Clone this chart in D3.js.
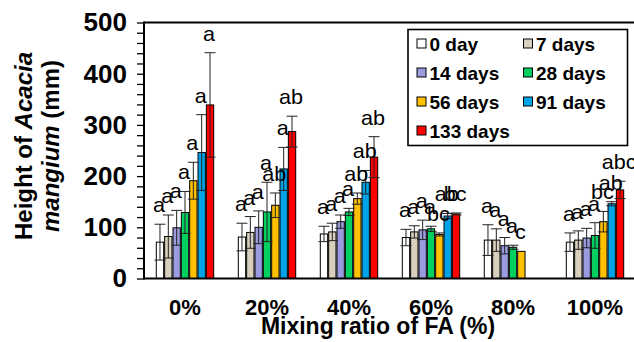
<!DOCTYPE html>
<html>
<head>
<meta charset="utf-8">
<script src="https://cdn.jsdelivr.net/npm/d3@7"></script>
<style>
  body { margin: 0; background: #fff; }
  svg { display: block; font-family: "Liberation Sans", Arial, sans-serif; }
</style>
</head>
<body>
<div id="chart"></div>
<script>
// datos
const categorias = ["0%", "20%", "40%", "60%", "80%", "100%"];
const series = ["0 day", "7 days", "14 days", "28 days", "56 days", "91 days", "133 days"];
const colores = ["#ffffff", "#d8cfbd", "#9b9be0", "#00d060", "#ffc000", "#00a2e8", "#ff0000"];

const medias = [
  [71, 81, 87, 80, 75, 71],
  [82, 90, 91, 91, 75, 75],
  [99, 100, 111, 95, 64, 79],
  [129, 130, 130, 97, 61, 84],
  [191, 143, 156, 86, 53, 111],
  [246, 214, 188, 122, null, 146],
  [339, 287, 237, 126, null, 173]
];
const errores = [
  [35, 27, 15, 16, 30, 18],
  [42, 31, 17, 12, 22, 18],
  [34, 32, 13, 19, 16, 19],
  [41, 58, 7, 5, 4, 25],
  [36, 24, 11, 3, 0, 20],
  [74, 42, 23, 5, null, 4],
  [102, 30, 40, 2, null, 17]
];
const letras = [
  ["a", "a", "a", "a", "a", "a"],
  ["a", "a", "a", "a", "a", "a"],
  ["a", "a", "a", "a", "a", "a"],
  ["a", "a", "a", "a", "a", "a"],
  ["a", "ab", "ab", "bc", "c", "bc"],
  ["a", "a", "ab", "ab", null, "ab"],
  ["a", "ab", "ab", "bc", null, "abc"]
];
const ticksY = [0, 100, 200, 300, 400, 500];

const ancho = 634, alto = 342;
const margen = { izq: 144, der: -2, arr: 22.5, aba: 63 };

const svg = d3.select("#chart").append("svg")
  .attr("width", ancho)
  .attr("height", alto);

const x = d3.scaleBand()
  .domain(categorias)
  .range([margen.izq, ancho - margen.der])
  .paddingInner(0.3)
  .paddingOuter(0.15);

const xSerie = d3.scaleBand()
  .domain(d3.range(series.length))
  .range([0, x.bandwidth()])
  .paddingInner(0.12);

const y = d3.scaleLinear()
  .domain([0, 500])
  .range([alto - margen.aba - 0.5, margen.arr]);

// eje y
const ejeY = svg.append("g")
  .attr("transform", `translate(${margen.izq},0)`)
  .call(d3.axisLeft(y)
    .tickValues(d3.range(0, 501, 20))
    .tickSize(7)
    .tickPadding(10)
    .tickFormat(d => ticksY.includes(d) ? d : ""));
ejeY.select(".domain").remove();
ejeY.selectAll(".tick line").attr("stroke", "#000").attr("stroke-width", 1.3);
ejeY.selectAll(".tick text")
  .attr("fill", "#000")
  .attr("font-size", 26)
  .attr("font-weight", "bold")
  .attr("font-family", "'Liberation Sans', Arial, sans-serif");

// barras
const filas = [];
series.forEach((s, i) => {
  categorias.forEach((c, j) => {
    if (medias[i][j] == null) return;
    filas.push({ i, c, m: medias[i][j], e: errores[i][j], l: letras[i][j] });
  });
});

svg.append("g").selectAll("rect")
  .data(filas)
  .join("rect")
  .attr("x", d => x(d.c) + xSerie(d.i))
  .attr("y", d => y(d.m))
  .attr("width", xSerie.bandwidth())
  .attr("height", d => y(0) - y(d.m))
  .attr("fill", d => colores[d.i])
  .attr("stroke", "#000")
  .attr("stroke-width", 1);

// barras de error
const cap = 5.5;
const gErr = svg.append("g").attr("stroke", "#222").attr("stroke-width", 1);
filas.filter(d => d.e > 0).forEach(d => {
  const cx = x(d.c) + xSerie(d.i) + xSerie.bandwidth() / 2;
  const y1 = y(d.m + d.e), y2 = y(d.m - d.e);
  gErr.append("line").attr("x1", cx).attr("x2", cx).attr("y1", y1).attr("y2", y2);
  gErr.append("line").attr("x1", cx - cap).attr("x2", cx + cap).attr("y1", y1).attr("y2", y1);
  gErr.append("line").attr("x1", cx - cap).attr("x2", cx + cap).attr("y1", y2).attr("y2", y2);
});

// letras de significancia (un poco estiradas a lo ancho como en el original)
svg.append("g").selectAll("text")
  .data(filas.filter(d => d.l))
  .join("text")
  .attr("transform", d => {
    const cx = x(d.c) + xSerie(d.i) + xSerie.bandwidth() / 2 - 1;
    return `translate(${cx},${y(d.m + d.e) - 12}) scale(1.08,1)`;
  })
  .attr("text-anchor", "middle")
  .attr("font-size", 20)
  .attr("fill", "#000")
  .text(d => d.l);

// marco
svg.append("line")
  .attr("x1", margen.izq).attr("x2", ancho)
  .attr("y1", y(500)).attr("y2", y(500))
  .attr("stroke", "#000").attr("stroke-width", 2);
svg.append("line")
  .attr("x1", margen.izq).attr("x2", ancho)
  .attr("y1", y(0)).attr("y2", y(0))
  .attr("stroke", "#000").attr("stroke-width", 2);
svg.append("line")
  .attr("x1", margen.izq).attr("x2", margen.izq)
  .attr("y1", y(500) - 1).attr("y2", y(0) + 1)
  .attr("stroke", "#000").attr("stroke-width", 2);

// etiquetas eje x
svg.append("g").selectAll("text")
  .data(categorias)
  .join("text")
  .attr("x", d => x(d) + x.bandwidth() / 2)
  .attr("y", 315)
  .attr("text-anchor", "middle")
  .attr("font-size", 22)
  .attr("font-weight", "bold")
  .text(d => d);

svg.append("text")
  .attr("x", 378)
  .attr("y", 334)
  .attr("text-anchor", "middle")
  .attr("font-size", 23)
  .attr("font-weight", "bold")
  .text("Mixing ratio of FA (%)");

// titulo eje y
const tituloY = svg.append("g")
  .attr("font-size", 24)
  .attr("font-weight", "bold")
  .attr("text-anchor", "middle");
const l1 = tituloY.append("text").attr("transform", "translate(32,146) rotate(-90)");
l1.append("tspan").text("Height of ");
l1.append("tspan").attr("font-style", "italic").text("Acacia");
const l2 = tituloY.append("text").attr("transform", "translate(58.5,146) rotate(-90)");
l2.append("tspan").attr("font-style", "italic").text("mangium");
l2.append("tspan").text(" (mm)");

// leyenda
const leyenda = svg.append("g");
leyenda.append("rect")
  .attr("x", 408).attr("y", 29.5)
  .attr("width", 219.5).attr("height", 116)
  .attr("fill", "#fff")
  .attr("stroke", "#000")
  .attr("stroke-width", 1.6);
series.forEach((s, i) => {
  const col = i % 2, fila = Math.floor(i / 2);
  const gx = 417 + col * 106.5, gy = 43.5 + fila * 29;
  leyenda.append("rect")
    .attr("x", gx).attr("y", gy - 4.5)
    .attr("width", 9).attr("height", 9)
    .attr("fill", colores[i])
    .attr("stroke", "#000")
    .attr("stroke-width", 1);
  leyenda.append("text")
    .attr("x", gx + 12.5).attr("y", gy + 7)
    .attr("font-size", 19)
    .attr("font-weight", "bold")
    .text(s);
});
</script>
</body>
</html>
